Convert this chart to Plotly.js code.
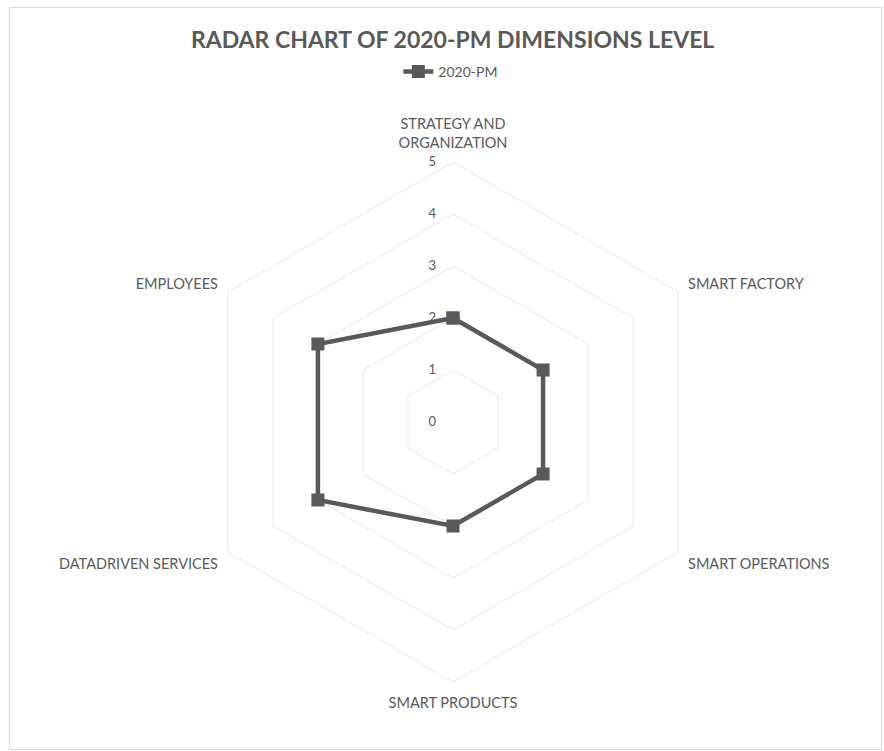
<!DOCTYPE html>
<html>
<head>
<meta charset="utf-8">
<script src="https://cdn.plot.ly/plotly-3.0.1.min.js"></script>
<style>html,body{margin:0;padding:0;background:#fff;}#chart{width:884px;height:751px;}</style>
</head>
<body>
<div id="chart"></div>
<script>
const categories = ["STRATEGY AND<br>ORGANIZATION", "SMART FACTORY", "SMART OPERATIONS", "SMART PRODUCTS", "DATADRIVEN SERVICES", "EMPLOYEES"];
const seriesName = "2020-PM";
const values = [2, 2, 2, 2, 3, 3];
const radialTicks = [0, 1, 2, 3, 4, 5];

const W = 884, H = 751, cx = 453, cy = 422, R = 260;

const trace = {
  type: "scatterpolar",
  r: values.concat([values[0]]),
  theta: categories.concat([categories[0]]),
  mode: "lines+markers",
  name: seriesName,
  line: {color: "#595959", width: 4.5},
  marker: {symbol: "square", size: 13, color: "#595959"},
  showlegend: true
};

const font = "Lato, 'Open Sans', sans-serif";
const layout = {
  width: W, height: H,
  margin: {l: 0, r: 0, t: 0, b: 0},
  paper_bgcolor: "#ffffff",
  font: {family: font, color: "#595959", size: 14.5},
  title: {text: "RADAR CHART OF 2020-PM DIMENSIONS LEVEL", font: {family: font, size: 23, color: "#595959", weight: 700}, x: 0.512, xanchor: "center", y: 1 - 40/H, yanchor: "middle"},
  showlegend: true,
  legend: {orientation: "h", x: 0.51, xanchor: "center", y: 1 - 72/H, yanchor: "middle", font: {size: 14, color: "#595959"}, itemwidth: 30},
  polar: {
    domain: {x: [(cx - R)/W, (cx + R)/W], y: [(H - cy - R)/H, (H - cy + R)/H]},
    gridshape: "linear",
    bgcolor: "rgba(0,0,0,0)",
    radialaxis: {
      range: [0, 5], tickvals: radialTicks, ticktext: radialTicks.map(String),
      angle: 90, tickangle: 90, side: "counterclockwise",
      showline: false, ticks: "outside", ticklen: 12, tickcolor: "rgba(0,0,0,0)",
      gridcolor: "#e6e6e6", gridwidth: 1,
      tickfont: {size: 13, color: "#595959"}
    },
    angularaxis: {
      direction: "clockwise", rotation: 90,
      showgrid: false, showline: true, linecolor: "#e6e6e6", linewidth: 1,
      ticks: "outside", ticklen: 8, tickcolor: "rgba(0,0,0,0)",
      tickfont: {size: 14.5, color: "#595959"}
    }
  },
  shapes: [{type: "rect", xref: "paper", yref: "paper", x0: 9.5/W, x1: 881.5/W, y0: 1 - 749.5/H, y1: 1 - 7.5/H, line: {color: "#d9d9d9", width: 1}}]
};

Plotly.newPlot("chart", [trace], layout, {displayModeBar: false, staticPlot: true});
</script>
</body>
</html>
